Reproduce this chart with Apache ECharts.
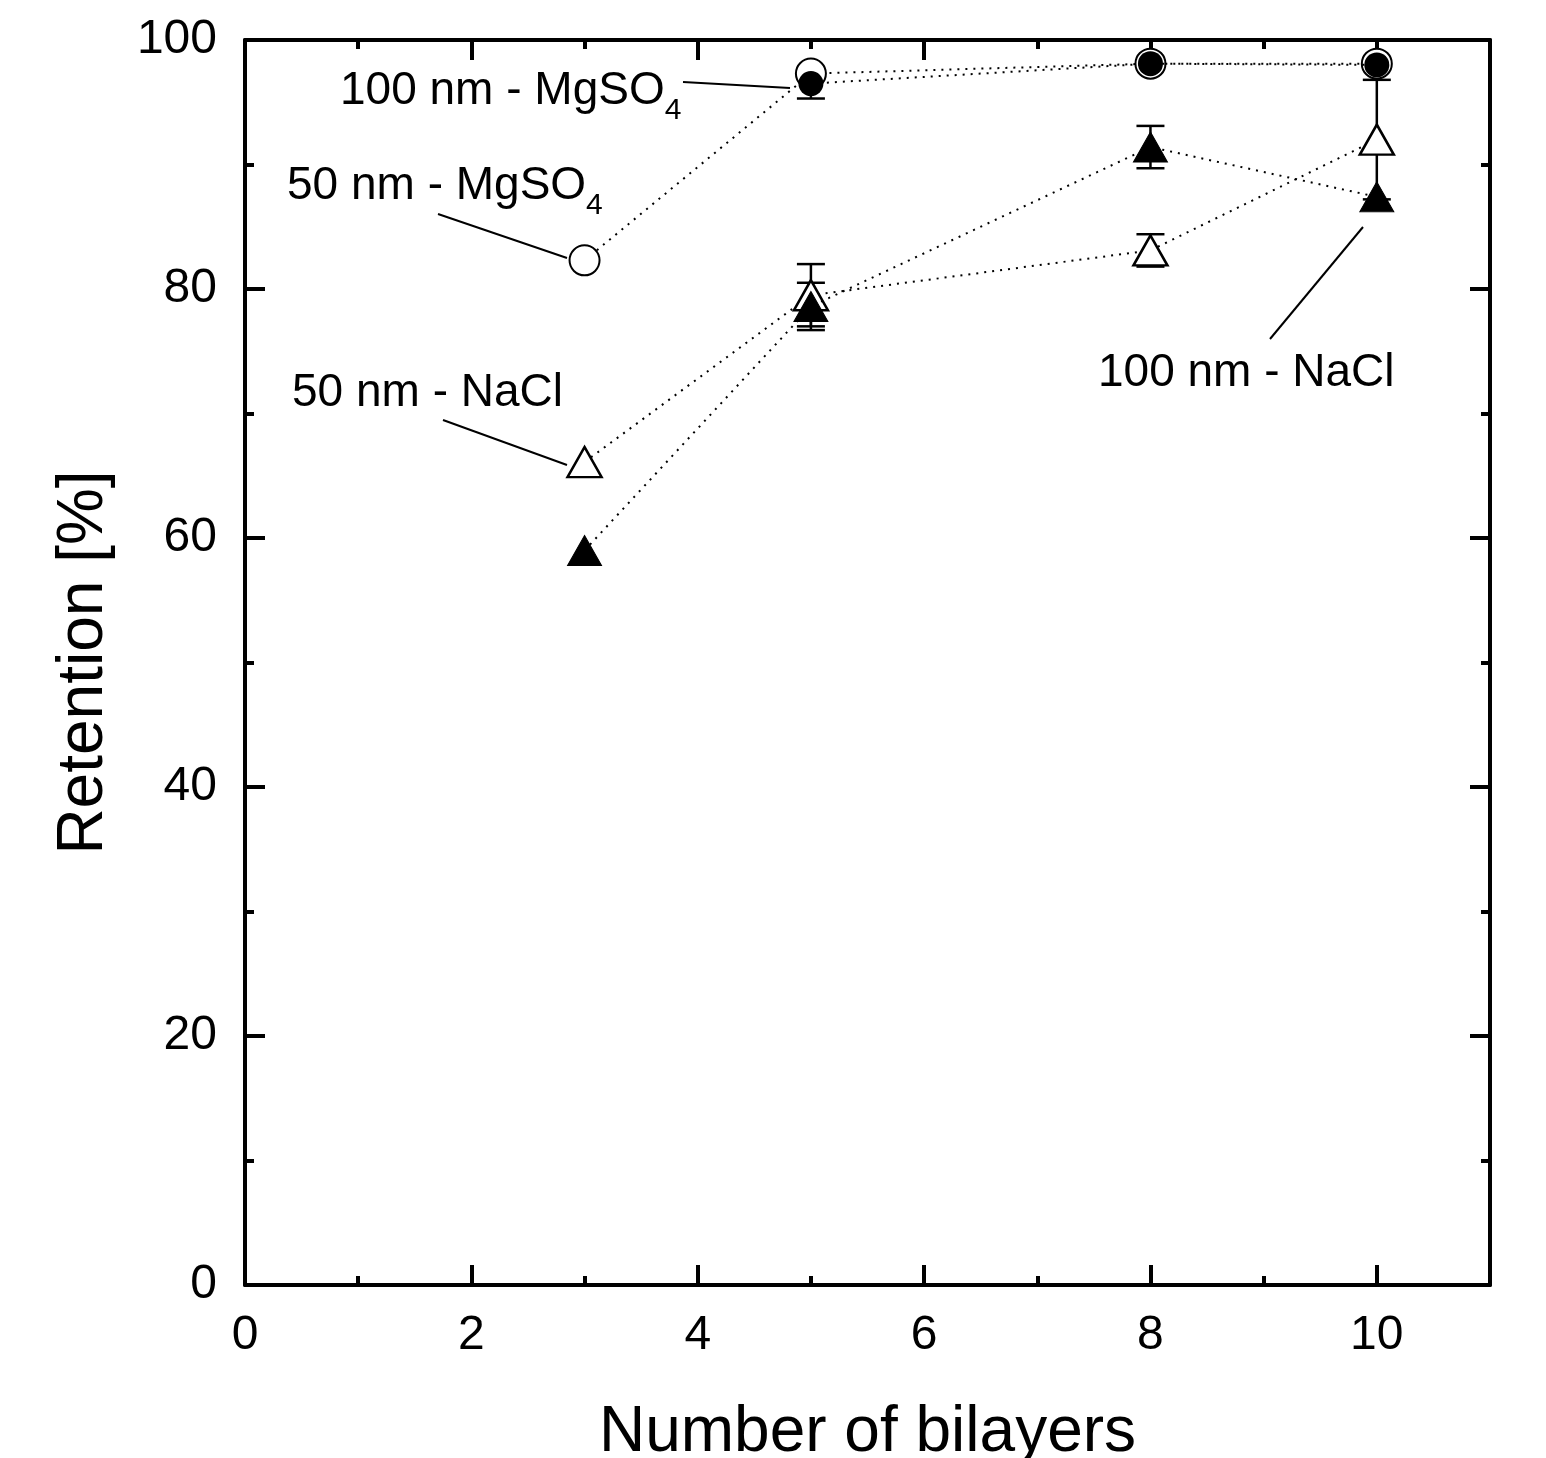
<!DOCTYPE html>
<html>
<head>
<meta charset="utf-8">
<title>Retention vs number of bilayers</title>
<script src="https://cdn.jsdelivr.net/npm/echarts@6/dist/echarts.min.js"></script>
<style>
  html, body { margin: 0; padding: 0; background: #fff; }
  #chart { width: 1546px; height: 1458px; }
</style>
</head>
<body>
<div id="chart"></div>
<script>
// axis ticks
const xMajorTicks = [0, 2, 4, 6, 8, 10];
const xMinorTicks = [1, 3, 5, 7, 9];
const xMax = 11;
const yMajorTicks = [0, 20, 40, 60, 80, 100];

// 50 nm - MgSO4 (open circles)
const bilayers50Mg = [3, 5, 8, 10];
const retention50Mg = [82.3, 97.3, 98.1, 98.1];
const error50Mg = [0, 0, 0, 0];

// 100 nm - MgSO4 (filled circles)
const bilayers100Mg = [5, 8, 10];
const retention100Mg = [96.5, 98.1, 98.0];
const error100Mg = [1.2, 0, 0];

// 50 nm - NaCl (open triangles)
const bilayers50Na = [3, 5, 8, 10];
const retention50Na = [66.1, 79.5, 83.1, 92.0];
const error50Na = [0, 2.5, 1.3, 4.8];

// 100 nm - NaCl (filled triangles)
const bilayers100Na = [3, 5, 8, 10];
const retention100Na = [59.0, 78.6, 91.4, 87.4];
const error100Na = [0, 1.9, 1.7, 0];

const FONT = "'Liberation Sans', Arial, sans-serif";

function pairs(xs, ys) {
  return xs.map((x, i) => [x, ys[i]]);
}
function errTriples(xs, ys, es) {
  return xs.map((x, i) => [x, ys[i], es[i]]);
}

const chart = echarts.init(document.getElementById("chart"), null, { renderer: "canvas" });

function renderErrorBar(params, api) {
  const x = api.value(0);
  const y = api.value(1);
  const e = api.value(2);
  if (!e) return null;
  const hi = api.coord([x, y + e]);
  const lo = api.coord([x, y - e]);
  const w = 14;
  const style = { stroke: "#000", lineWidth: 2.5 };
  return {
    type: "group",
    children: [
      { type: "line", shape: { x1: hi[0], y1: hi[1], x2: lo[0], y2: lo[1] }, style },
      { type: "line", shape: { x1: hi[0] - w, y1: hi[1], x2: hi[0] + w, y2: hi[1] }, style },
      { type: "line", shape: { x1: lo[0] - w, y1: lo[1], x2: lo[0] + w, y2: lo[1] }, style },
    ],
  };
}

const dotted = { color: "#000", width: 2, type: [2, 6] };

function xAxisDef(position, ticks, len, withLine, withLabel) {
  return {
    type: "value",
    position: position,
    min: xMajorTicks[0],
    max: xMax,
    splitLine: { show: false },
    axisLine: { show: withLine, onZero: false, lineStyle: { color: "#000", width: 4 } },
    axisTick: {
      show: true,
      inside: true,
      length: len,
      customValues: ticks,
      lineStyle: { color: "#000", width: 4 },
    },
    axisLabel: {
      show: withLabel,
      customValues: xMajorTicks,
      margin: 27,
      color: "#000",
      fontSize: 48,
      fontFamily: FONT,
    },
  };
}

function yAxisDef(position, withLabel) {
  return {
    type: "value",
    position: position,
    min: yMajorTicks[0],
    max: yMajorTicks[yMajorTicks.length - 1],
    interval: yMajorTicks[1] - yMajorTicks[0],
    splitLine: { show: false },
    axisLine: { show: true, onZero: false, lineStyle: { color: "#000", width: 4 } },
    axisTick: { show: true, inside: true, length: 20, lineStyle: { color: "#000", width: 4 } },
    minorTick: { show: true, splitNumber: 2, length: 9, lineStyle: { color: "#000", width: 4 } },
    axisLabel: {
      show: withLabel,
      margin: 28,
      color: "#000",
      fontSize: 48,
      fontFamily: FONT,
    },
  };
}

const xBottom = xAxisDef("bottom", xMajorTicks, 20, true, true);
xBottom.name = "Number of bilayers";
xBottom.nameLocation = "middle";
xBottom.nameGap = 116;
xBottom.nameTextStyle = { color: "#000", fontSize: 64, fontFamily: FONT };

const yLeft = yAxisDef("left", true);
yLeft.name = "Retention [%]";
yLeft.nameLocation = "middle";
yLeft.nameGap = 129;
yLeft.nameTextStyle = { color: "#000", fontSize: 64, fontFamily: FONT };

// annotation text: main token plus optional subscript
function label(x, baseline, main, sub) {
  let text = "{a|" + main + "}";
  if (sub) text += "{s|" + sub + "}";
  return {
    type: "text",
    z: 100,
    style: {
      x: x,
      y: baseline - 25,
      align: "left",
      verticalAlign: "top",
      text: text,
      fill: "#000",
      rich: {
        a: { fontSize: 46, lineHeight: 46, padding: [0, 0, 12, 0], verticalAlign: "bottom", fontFamily: FONT, color: "#000" },
        s: { fontSize: 30, lineHeight: 30, verticalAlign: "bottom", fontFamily: FONT, color: "#000" },
      },
    },
  };
}
function leader(x1, y1, x2, y2) {
  return {
    type: "line",
    z: 100,
    shape: { x1, y1, x2, y2 },
    style: { stroke: "#000", lineWidth: 2 },
  };
}

chart.setOption({
  backgroundColor: "#fff",
  animation: false,
  grid: { left: 245, right: 56, top: 40, bottom: 173, containLabel: false, outerBoundsMode: "none" },
  xAxis: [
    xBottom,
    xAxisDef("bottom", xMinorTicks, 9, false, false),
    xAxisDef("top", xMajorTicks, 20, true, false),
    xAxisDef("top", xMinorTicks, 9, false, false),
  ],
  yAxis: [yLeft, yAxisDef("right", false)],
  series: [
    { type: "custom", renderItem: renderErrorBar, data: errTriples(bilayers50Mg, retention50Mg, error50Mg), z: 1 },
    { type: "custom", renderItem: renderErrorBar, data: errTriples(bilayers100Mg, retention100Mg, error100Mg), z: 1 },
    { type: "custom", renderItem: renderErrorBar, data: errTriples(bilayers50Na, retention50Na, error50Na), z: 1 },
    { type: "custom", renderItem: renderErrorBar, data: errTriples(bilayers100Na, retention100Na, error100Na), z: 1 },
    {
      name: "50 nm - MgSO4",
      type: "line",
      data: pairs(bilayers50Mg, retention50Mg),
      symbol: "circle",
      symbolSize: 30,
      lineStyle: dotted,
      itemStyle: { color: "#fff", borderColor: "#000", borderWidth: 2 },
      z: 3,
    },
    {
      name: "100 nm - MgSO4",
      type: "line",
      data: pairs(bilayers100Mg, retention100Mg),
      symbol: "circle",
      symbolSize: 25,
      lineStyle: dotted,
      itemStyle: { color: "#000", borderColor: "#000", borderWidth: 0 },
      z: 4,
    },
    {
      name: "50 nm - NaCl",
      type: "line",
      data: pairs(bilayers50Na, retention50Na),
      symbol: "triangle",
      symbolSize: [34, 30],
      lineStyle: dotted,
      itemStyle: { color: "#fff", borderColor: "#000", borderWidth: 2.5 },
      z: 3,
    },
    {
      name: "100 nm - NaCl",
      type: "line",
      data: pairs(bilayers100Na, retention100Na),
      symbol: "triangle",
      symbolSize: [34, 30],
      lineStyle: dotted,
      itemStyle: { color: "#000", borderColor: "#000", borderWidth: 1 },
      z: 4,
    },
  ],
  graphic: [
    label(340, 105, "100 nm - MgSO", "4"),
    leader(683, 82, 790, 88),
    label(287, 200, "50 nm - MgSO", "4"),
    leader(438, 214, 567, 258),
    label(292, 407, "50 nm - NaCl"),
    leader(443, 420, 567, 465),
    label(1098, 387, "100 nm - NaCl"),
    leader(1270, 339, 1363, 227),
  ],
});
</script>
</body>
</html>
